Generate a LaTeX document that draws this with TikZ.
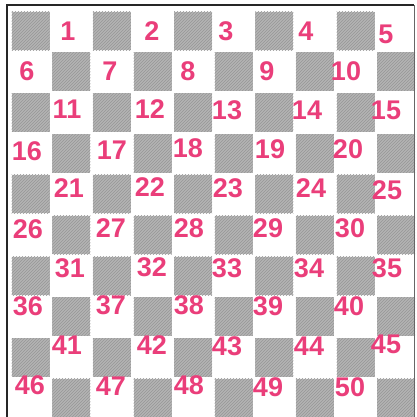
\documentclass[tikz,border=0pt]{standalone}
\usepackage{fontspec}
\setmainfont{Liberation Sans}
\usetikzlibrary{patterns}
\definecolor{numpink}{RGB}{234,62,122}
\definecolor{sqgrey}{RGB}{180,180,180}
\definecolor{hatchgrey}{RGB}{150,150,150}
\tikzset{
  num/.style={text=numpink, font=\fontsize{27}{27}\selectfont\bfseries, inner sep=0pt, anchor=center},
  darksq/.style={fill=sqgrey, draw=none},
  hatchsq/.style={pattern=north east lines, pattern color=hatchgrey},
  frame/.style={draw=black!85, line width=2pt}
}
\begin{document}
\begin{tikzpicture}[x=1pt,y=-1pt]
\useasboundingbox (0,0) rectangle (416,417);
\fill[white] (0,0) rectangle (416,417);
% dark squares
\foreach \r in {0,...,9}{
  \foreach \c in {0,...,9}{
    \pgfmathtruncatemacro{\myparity}{mod(\r+\c,2)}
    \ifnum\myparity=0
      \path[darksq] ({11.7+40.6*\c},{11.7+40.8*\r}) rectangle ++(38,38.5);
      \path[hatchsq] ({11.7+40.6*\c},{11.7+40.8*\r}) rectangle ++(38,38.5);
    \fi
  }
}
% frame
\draw[frame] (6.5,420) -- (6.5,5.5) -- (414,5.5);
\draw[draw=black!60, line width=0.8pt] (414,5.5) -- (414,420);
% numbers
\foreach \n/\x/\y in {
 1/68/31, 2/152/31, 3/226/31, 4/306/31, 5/386/34,
 6/27/71, 7/110/71, 8/188/71, 9/267/71, 10/346/71,
 11/67/109, 12/150/109, 13/227/110, 14/307/110, 15/386/110,
 16/27/151, 17/112/150, 18/188/148, 19/270/149, 20/348/149,
 21/69/188, 22/150/187, 23/228/188, 24/311/188, 25/387/190,
 26/28/229, 27/111/228, 28/189/228, 29/268/228, 30/350/228,
 31/70/268, 32/152/267, 33/227/268, 34/309/268, 35/387/268,
 36/28/306, 37/111/305, 38/189/305, 39/268/306, 40/349/306,
 41/67/345, 42/152/345, 43/227/346, 44/309/346, 45/386/344,
 46/30/385, 47/111/386, 48/189/385, 49/268/387, 50/350/387}{
  \node[num] (n\n) at (\x,\y) {\n};
}
\end{tikzpicture}
\end{document}
